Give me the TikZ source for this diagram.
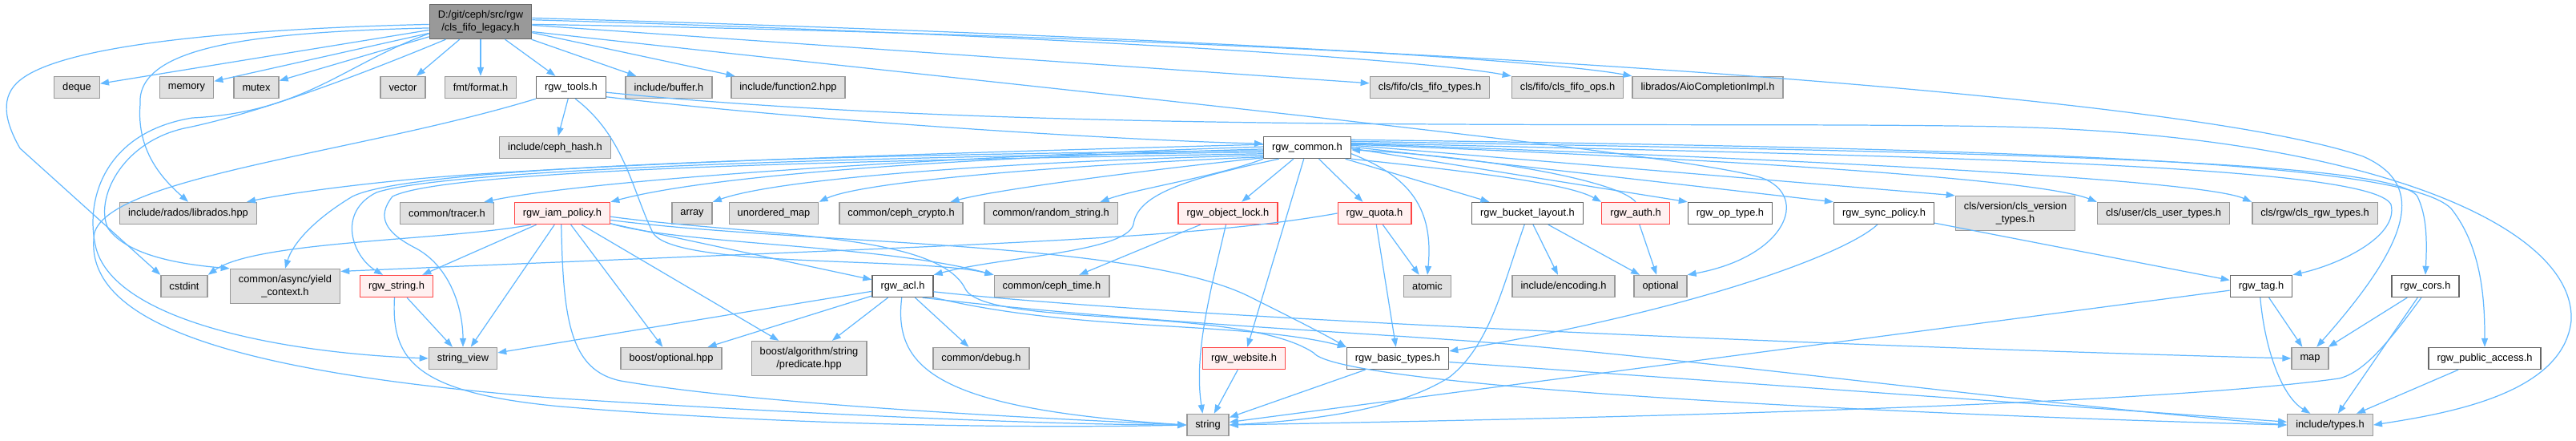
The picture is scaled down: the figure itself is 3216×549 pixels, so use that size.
\documentclass[tikz,border=0pt]{standalone}
\usepackage{fontspec}
\setmainfont{Liberation Sans}
\usetikzlibrary{arrows.meta}
\definecolor{EdgeBlue}{RGB}{99,184,255}
\definecolor{SysGray}{RGB}{224,224,224}
\definecolor{SysBorder}{RGB}{153,153,153}
\definecolor{ProjBorder}{RGB}{102,102,102}
\definecolor{TruncPink}{RGB}{255,240,240}
\definecolor{TruncRed}{RGB}{255,70,70}
\definecolor{MainGray}{RGB}{153,153,153}

\begin{document}
\begin{tikzpicture}[x=0.02cm, y=-0.02cm,
    incbox/.style={rectangle, draw, line width=0.8pt, inner xsep=0.21cm, inner ysep=0.15cm,
      minimum height=0.54cm, align=center, font=\fontsize{7.3}{9.1}\selectfont},
    sysfile/.style={incbox, fill=SysGray, draw=SysBorder},
    projfile/.style={incbox, fill=white, draw=ProjBorder},
    truncfile/.style={incbox, fill=TruncPink, draw=TruncRed},
    mainfile/.style={incbox, fill=MainGray, draw=ProjBorder},
    dep/.style={draw=EdgeBlue, line width=0.7pt, -{Triangle[length=0.22cm, width=0.16cm]}}]
    \useasboundingbox (0,0) rectangle (3216,549);

    % Documented file
    \node[mainfile] (root) at (600,27) {D:/git/ceph/src/rgw\\/cls\_fifo\_legacy.h};

    % Direct includes
    \node[sysfile] (deque) at (96,109) {deque};
    \node[sysfile] (memory) at (233,109) {memory};
    \node[sysfile] (mutex) at (320,109) {mutex};
    \node[sysfile] (vector) at (503,109) {vector};
    \node[sysfile] (fmt) at (600,109) {fmt/format.h};
    \node[projfile] (tools) at (713,109) {rgw\_tools.h};
    \node[sysfile] (buffer) at (835,109) {include/buffer.h};
    \node[sysfile] (func2) at (984,109) {include/function2.hpp};
    \node[sysfile] (fifotypes) at (1785,109) {cls/fifo/cls\_fifo\_types.h};
    \node[sysfile] (fifoops) at (1957,109) {cls/fifo/cls\_fifo\_ops.h};
    \node[sysfile] (aio) at (2132,109) {librados/AioCompletionImpl.h};

    \node[sysfile] (cephhash) at (693,184) {include/ceph\_hash.h};
    \node[projfile] (common) at (1632,184) {rgw\_common.h};

    % Middle row
    \node[sysfile] (libradoshpp) at (235,266) {include/rados/librados.hpp};
    \node[sysfile] (tracer) at (558,266) {common/tracer.h};
    \node[truncfile] (iam) at (702,266) {rgw\_iam\_policy.h};
    \node[sysfile] (array) at (864,266) {array};
    \node[sysfile] (umap) at (966,266) {unordered\_map};
    \node[sysfile] (crypto) at (1125,266) {common/ceph\_crypto.h};
    \node[sysfile] (randstr) at (1312,266) {common/random\_string.h};
    \node[truncfile] (objlock) at (1533,266) {rgw\_object\_lock.h};
    \node[truncfile] (quota) at (1716,266) {rgw\_quota.h};
    \node[projfile] (bucket) at (1907,266) {rgw\_bucket\_layout.h};
    \node[truncfile] (auth) at (2042,266) {rgw\_auth.h};
    \node[projfile] (optype) at (2160,266) {rgw\_op\_type.h};
    \node[projfile] (syncpol) at (2352,266) {rgw\_sync\_policy.h};
    \node[sysfile] (clsver) at (2516,266) {cls/version/cls\_version\\\_types.h};
    \node[sysfile] (clsuser) at (2701,266) {cls/user/cls\_user\_types.h};
    \node[sysfile] (clsrgw) at (2890,266) {cls/rgw/cls\_rgw\_types.h};

    \node[sysfile] (cstdint) at (230,357) {cstdint};
    \node[sysfile] (yield) at (356,357) {common/async/yield\\\_context.h};
    \node[truncfile] (rgwstring) at (495,357) {rgw\_string.h};
    \node[projfile] (acl) at (1127,357) {rgw\_acl.h};
    \node[sysfile] (cephtime) at (1313,357) {common/ceph\_time.h};
    \node[sysfile] (atomic) at (1782,357) {atomic};
    \node[sysfile] (encoding) at (1952,357) {include/encoding.h};
    \node[sysfile] (optional) at (2073,357) {optional};
    \node[projfile] (tag) at (2823,357) {rgw\_tag.h};
    \node[projfile] (cors) at (3028,357) {rgw\_cors.h};

    % Lower rows
    \node[sysfile] (strview) at (578,447) {string\_view};
    \node[sysfile] (boostopt) at (838,447) {boost/optional.hpp};
    \node[sysfile] (predicate) at (1010,447) {boost/algorithm/string\\/predicate.hpp};
    \node[sysfile] (debug) at (1225,447) {common/debug.h};
    \node[truncfile] (website) at (1553,447) {rgw\_website.h};
    \node[projfile] (basic) at (1745,447) {rgw\_basic\_types.h};
    \node[sysfile] (map) at (2884,447) {map};
    \node[projfile] (public) at (3102,447) {rgw\_public\_access.h};

    \node[sysfile] (string) at (1508,530) {string};
    \node[sysfile] (types) at (2909,530) {include/types.h};

    % Edges from the documented file
    \foreach \n in {deque,memory,mutex,vector,fmt,tools,buffer,func2,fifotypes}
      \draw[dep] (root) -- (\n);
    \draw[dep] (root.2) .. controls (1200,40) and (1750,70) .. (fifoops.north west);
    \draw[dep] (root.4) .. controls (1300,40) and (1900,70) .. (aio.north west);
    \draw[dep] (root.183) .. controls (300,36) and (80,55) .. (25,100)
      .. controls (0,120) and (5,150) .. (25,185) -- (cstdint.north west);
    \draw[dep] (root.187) .. controls (330,40) and (170,55) .. (175,130)
      .. controls (170,190) and (205,225) .. (libradoshpp.north);
    \draw[dep] (root.193) .. controls (430,80) and (380,140) .. (240,147)
      .. controls (130,165) and (105,250) .. (120,310)
      .. controls (145,400) and (350,440) .. (strview.west);
    \draw[dep] (root.207) .. controls (470,85) and (330,140) .. (230,160)
      .. controls (150,178) and (118,250) .. (135,285)
      .. controls (160,320) and (230,330) .. (yield.north west);
    \draw[dep] (root.-3) .. controls (1600,45) and (2700,110) .. (2950,195)
      .. controls (3030,230) and (3010,300) .. (map.60);
    \draw[dep] (root.-11) .. controls (1300,110) and (2100,190) .. (2200,222)
      .. controls (2260,245) and (2230,320) .. (optional.north east);

    % rgw_tools.h
    \draw[dep] (tools) -- (cephhash);
    \draw[dep] (tools.-15) .. controls (1000,150) and (1400,175) .. (common.175);
    \draw[dep] (tools.-8) .. controls (1300,170) and (2100,150) .. (2500,158)
      .. controls (2950,168) and (3216,280) .. (3210,400)
      .. controls (3200,490) and (3060,515) .. (types.east);
    \draw[dep] (tools.south west) .. controls (450,190) and (140,220) .. (118,290)
      .. controls (100,400) and (280,465) .. (700,497)
      .. controls (1100,522) and (1350,530) .. (string.west);
    \draw[dep] (tools.-70) .. controls (780,170) and (790,240) .. (815,290)
      .. controls (840,335) and (1150,320) .. (cephtime.north west);

    % rgw_common.h, to the left
    \draw[dep] (common.176) .. controls (1200,190) and (700,205) .. (500,225)
      .. controls (400,235) and (340,245) .. (libradoshpp.11);
    \draw[dep] (common.179) .. controls (1200,195) and (750,222) .. (tracer.17);
    \draw[dep] (common.182) .. controls (1250,195) and (900,215) .. (iam.north east);
    \draw[dep] (common.184) .. controls (1100,192) and (520,205) .. (440,245)
      .. controls (390,275) and (365,305) .. (yield.north);
    \draw[dep] (common.186) .. controls (1100,195) and (560,210) .. (470,240)
      .. controls (420,265) and (440,320) .. (rgwstring.140);
    \draw[dep] (common.188) .. controls (1100,200) and (560,210) .. (490,245)
      .. controls (470,270) and (480,290) .. (520,310)
      .. controls (565,335) and (578,390) .. (strview.north);
    \draw[dep] (common.190) .. controls (1300,200) and (980,220) .. (array.north east);
    \draw[dep] (common.192) .. controls (1350,205) and (1080,225) .. (umap.north east);
    \draw[dep] (common.193) .. controls (1450,210) and (1250,235) .. (crypto.13);
    \draw[dep] (common.south west) .. controls (1520,220) and (1420,235) .. (randstr.13);
    \draw[dep] (common.-158) .. controls (1470,225) and (1420,245) .. (1415,280)
      .. controls (1405,315) and (1250,320) .. (acl.north east);

    % rgw_common.h, below and to the right
    \draw[dep] (common) -- (objlock);
    \draw[dep] (common) -- (website);
    \draw[dep] (common) -- (quota);
    \draw[dep] (common) -- (bucket);
    \draw[dep] (common.-8) .. controls (1760,220) and (1790,260) .. (atomic.north);
    \draw[dep] (common.south east) .. controls (1850,215) and (1960,230) .. (auth.north west);
    \draw[dep] (auth.north) .. controls (2020,225) and (1850,195) .. (common.-3);
    \draw[dep] (common.-1) -- (optype.north west);
    \draw[dep] (common.1) -- (syncpol.north west);
    \draw[dep] (common.3) -- (clsver.north west);
    \draw[dep] (common.4) .. controls (2200,200) and (2550,225) .. (clsuser.north west);
    \draw[dep] (common.5) .. controls (2300,200) and (2750,225) .. (clsrgw.north west);
    \draw[dep] (common.6) .. controls (2400,195) and (2960,205) .. (2985,255)
      .. controls (2995,295) and (2920,330) .. (tag.north east);
    \draw[dep] (common.8) .. controls (2500,190) and (2990,200) .. (3018,245)
      .. controls (3030,270) and (3030,300) .. (cors.north);
    \draw[dep] (common.10) .. controls (2500,185) and (3000,200) .. (3060,260)
      .. controls (3100,310) and (3102,380) .. (public.north);

    % rgw_iam_policy.h
    \draw[dep] (iam.-160) .. controls (560,300) and (320,300) .. (cstdint.north east);
    \draw[dep] (iam) -- (rgwstring);
    \draw[dep] (iam) -- (strview);
    \draw[dep] (iam) -- (boostopt);
    \draw[dep] (iam) -- (predicate);
    \draw[dep] (iam) -- (acl);
    \draw[dep] (iam.-95) .. controls (703,400) and (712,462) .. (775,475)
      .. controls (950,505) and (1300,522) .. (string.west);
    \draw[dep] (iam.-12) .. controls (850,305) and (1100,305) .. (cephtime.north west);
    \draw[dep] (iam.-8) .. controls (1000,305) and (1420,300) .. (1560,370)
      .. controls (1620,400) and (1650,415) .. (basic.north west);
    \draw[dep] (iam.-4) .. controls (950,295) and (1170,290) .. (1205,360)
      .. controls (1230,410) and (1550,380) .. (1640,440)
      .. controls (1670,480) and (2300,515) .. (types.west);

    % rgw_string.h
    \draw[dep] (rgwstring) -- (strview);
    \draw[dep] (rgwstring.-100) .. controls (488,450) and (520,490) .. (700,507)
      .. controls (1000,532) and (1300,534) .. (string.west);

    % rgw_acl.h
    \draw[dep] (acl) -- (strview);
    \draw[dep] (acl) -- (boostopt);
    \draw[dep] (acl) -- (predicate);
    \draw[dep] (acl) -- (debug);
    \draw[dep] (acl.-95) .. controls (1115,460) and (1170,510) .. (string.west);
    \draw[dep] (acl.-20) .. controls (1350,415) and (1550,400) .. (basic.north west);
    \draw[dep] (acl.-10) .. controls (1500,400) and (2400,435) .. (map.west);
    \draw[dep] (acl.-30) .. controls (1400,400) and (1650,412) .. (1830,425)
      .. controls (2100,445) and (2500,500) .. (types.west);

    % truncated and small headers
    \draw[dep] (objlock) -- (cephtime);
    \draw[dep] (objlock.-100) .. controls (1512,360) and (1490,440) .. (string.115);
    \draw[dep] (quota.west) .. controls (1480,300) and (1200,305) .. (yield.15);
    \draw[dep] (quota) -- (atomic);
    \draw[dep] (quota) -- (basic);
    \draw[dep] (bucket) -- (encoding);
    \draw[dep] (bucket) -- (optional);
    \draw[dep] (bucket.-105) .. controls (1875,360) and (1860,430) .. (1810,470)
      .. controls (1740,515) and (1620,525) .. (string.east);
    \draw[dep] (auth) -- (optional);
    \draw[dep] (syncpol.-120) .. controls (2300,320) and (2100,390) .. (basic.8);
    \draw[dep] (syncpol) -- (tag);
    \draw[dep] (tag) -- (map);
    \draw[dep] (tag) -- (string);
    \draw[dep] (tag.-95) .. controls (2828,440) and (2850,495) .. (types.150);
    \draw[dep] (cors) -- (map);
    \draw[dep] (cors) -- (types);
    \draw[dep] (cors.-110) .. controls (2980,430) and (2950,465) .. (2920,472)
      .. controls (2650,510) and (1800,525) .. (string.east);
    \draw[dep] (public) -- (types);
    \draw[dep] (website) -- (string);
    \draw[dep] (basic) -- (string);
    \draw[dep] (basic) -- (types);
\end{tikzpicture}
\end{document}
